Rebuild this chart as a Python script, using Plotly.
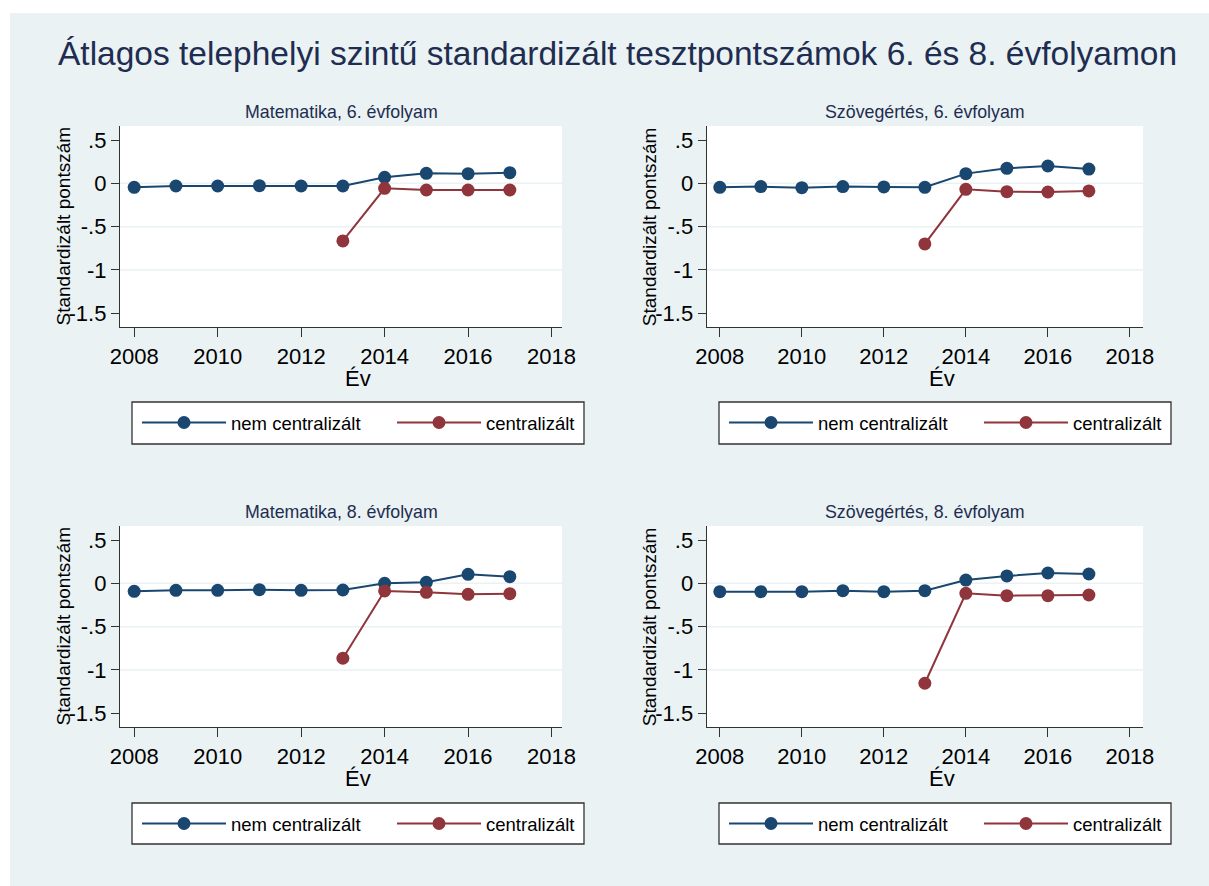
import plotly.graph_objects as go

W, H = 1209, 886
OFF = 0  # body margin is removed in the page (see post_script)

years_all = [2008, 2009, 2010, 2011, 2012, 2013, 2014, 2015, 2016, 2017]
years_c = [2013, 2014, 2015, 2016, 2017]

panel_titles = ["Matematika, 6. évfolyam", "Szövegértés, 6. évfolyam",
                "Matematika, 8. évfolyam", "Szövegértés, 8. évfolyam"]

mat6_nem = [-0.046, -0.031, -0.031, -0.027, -0.031, -0.031, 0.069, 0.115, 0.112, 0.123]
mat6_cen = [-0.665, -0.058, -0.077, -0.077, -0.077]
szo6_nem = [-0.046, -0.038, -0.050, -0.038, -0.042, -0.046, 0.112, 0.173, 0.200, 0.165]
szo6_cen = [-0.700, -0.069, -0.096, -0.100, -0.088]
mat8_nem = [-0.092, -0.081, -0.081, -0.073, -0.081, -0.077, 0.000, 0.012, 0.104, 0.077]
mat8_cen = [-0.865, -0.088, -0.104, -0.127, -0.119]
szo8_nem = [-0.096, -0.096, -0.096, -0.085, -0.096, -0.085, 0.038, 0.085, 0.119, 0.108]
szo8_cen = [-1.154, -0.115, -0.142, -0.142, -0.135]

nem_series = [mat6_nem, szo6_nem, mat8_nem, szo8_nem]
cen_series = [mat6_cen, szo6_cen, mat8_cen, szo8_cen]

series_names = ["nem centralizált", "centralizált"]
main_title = "Átlagos telephelyi szintű standardizált tesztpontszámok 6. és 8. évfolyamon"
y_title = "Standardizált pontszám"
x_title = "Év"

y_tickvals = [0.5, 0, -0.5, -1, -1.5]
y_ticktext = [".5", "0", "-.5", "-1", "-1.5"]
x_tickvals = [2008, 2010, 2012, 2014, 2016, 2018]
grid_vals = [0, -0.5, -1]

BLUE = "#1A476F"
RED = "#90353B"
BG = "#EAF2F3"
TXT = "#1E2D50"
FONT = "Liberation Sans, Arial, sans-serif"


def px(xp):
    return (xp - OFF) / W


def py(yp):
    return 1 - (yp - OFF) / H


# panel pixel boxes in page pixels (left, right, top, bottom)
boxes = [(120, 562, 126, 327), (706.7, 1143, 126, 327),
         (120, 562, 526, 727), (706.7, 1143, 526, 727)]
xranges = [[2007.66, 2018.25], [2007.68, 2018.32], [2007.66, 2018.25], [2007.68, 2018.32]]
yrange = [-1.659, 0.662]
# legend frame boxes (left, right, top, bottom)
legend_boxes = [(132, 584, 402, 444), (719, 1171, 402, 444),
                (132, 584, 803, 844), (719, 1171, 803, 844)]

fig = go.Figure()
layout = dict(
    width=W, height=H,
    margin=dict(l=0, r=0, t=0, b=0, autoexpand=False),
    paper_bgcolor=BG, plot_bgcolor="white",
    font=dict(family=FONT, color="black"),
    showlegend=True,
)

annotations = []
shapes = []

for i in range(4):
    k = "" if i == 0 else str(i + 1)
    xa, ya = "x" + k, "y" + k
    lg = "legend" + k
    l, r, t, b = boxes[i]
    fig.add_trace(go.Scatter(
        x=years_all, y=nem_series[i], name=series_names[0], mode="lines+markers",
        line=dict(color=BLUE, width=2), marker=dict(color=BLUE, size=13),
        xaxis=xa, yaxis=ya, legend=lg, hoverinfo="x+y"))
    fig.add_trace(go.Scatter(
        x=years_c, y=cen_series[i], name=series_names[1], mode="lines+markers",
        line=dict(color=RED, width=2), marker=dict(color=RED, size=13),
        xaxis=xa, yaxis=ya, legend=lg, hoverinfo="x+y"))

    layout["xaxis" + k] = dict(
        domain=[px(l), px(r)], anchor=ya, range=xranges[i],
        tickvals=x_tickvals, ticks="outside", ticklen=9, tickwidth=1.3, tickcolor="#333",
        showline=True, linecolor="#333", linewidth=1.3, showgrid=False, zeroline=False,
        tickfont=dict(size=22, color="black", family=FONT))
    layout["yaxis" + k] = dict(
        domain=[py(b), py(t)], anchor=xa, range=yrange,
        tickvals=y_tickvals, ticktext=y_ticktext, ticks="outside", ticklen=8,
        tickwidth=1.3, tickcolor="#333",
        showline=True, linecolor="#333", linewidth=1.3, showgrid=False, zeroline=False,
        tickfont=dict(size=22, color="black", family=FONT))

    for g in grid_vals:
        shapes.append(dict(type="line", xref=xa + " domain", yref=ya,
                           x0=0, x1=1, y0=g, y1=g, layer="below",
                           line=dict(color=BG, width=1.5)))

    annotations.append(dict(text=panel_titles[i], xref=xa + " domain", yref=ya + " domain",
                            x=0.5, y=1, yshift=14.5, xanchor="center", yanchor="middle",
                            showarrow=False, font=dict(size=17.8, color=TXT, family=FONT)))
    annotations.append(dict(text=y_title, xref=xa + " domain", yref=ya + " domain",
                            x=0, y=0.5, xshift=-57, xanchor="center", yanchor="middle",
                            textangle=-90, showarrow=False,
                            font=dict(size=19, color="black", family=FONT)))
    annotations.append(dict(text=x_title, xref=xa + " domain", yref=ya + " domain",
                            x=0.5, y=0, xshift=17, yshift=-51, xanchor="center", yanchor="middle",
                            showarrow=False, font=dict(size=22, color="black", family=FONT)))

    bl, br, bt, bb = legend_boxes[i]
    shapes.append(dict(type="rect", xref="paper", yref="paper",
                       x0=px(bl), x1=px(br), y0=py(bb), y1=py(bt),
                       fillcolor="white", line=dict(color="#333", width=1.3), layer="above"))
    layout[lg] = dict(
        x=px(bl + 5), y=py(bt + 2), xanchor="left", yanchor="top",
        orientation="h", bgcolor="rgba(0,0,0,0)", borderwidth=0,
        font=dict(size=18.5, color="black", family=FONT),
        itemwidth=84, entrywidth=156, entrywidthmode="pixels",
        itemclick=False, itemdoubleclick=False)

annotations.append(dict(text=main_title, xref="paper", yref="paper",
                        x=px(617), y=py(54), xanchor="center", yanchor="middle",
                        showarrow=False, font=dict(size=33.5, color=TXT, family=FONT)))

# white border strips of the original image (top and left)
shapes.append(dict(type="rect", xref="paper", yref="paper", x0=0, x1=1, y0=py(13), y1=1,
                   fillcolor="white", line=dict(width=0), layer="above"))
shapes.append(dict(type="rect", xref="paper", yref="paper", x0=0, x1=px(10), y0=0, y1=1,
                   fillcolor="white", line=dict(width=0), layer="above"))

layout["annotations"] = annotations
layout["shapes"] = shapes
fig.update_layout(**layout)
fig.write_html(
    "out.html",
    config={"displayModeBar": False},
    post_script=("document.documentElement.style.overflow='hidden';"
                 "document.documentElement.style.margin='0';"
                 "document.body.style.margin='0';document.body.style.overflow='hidden';"),
)
